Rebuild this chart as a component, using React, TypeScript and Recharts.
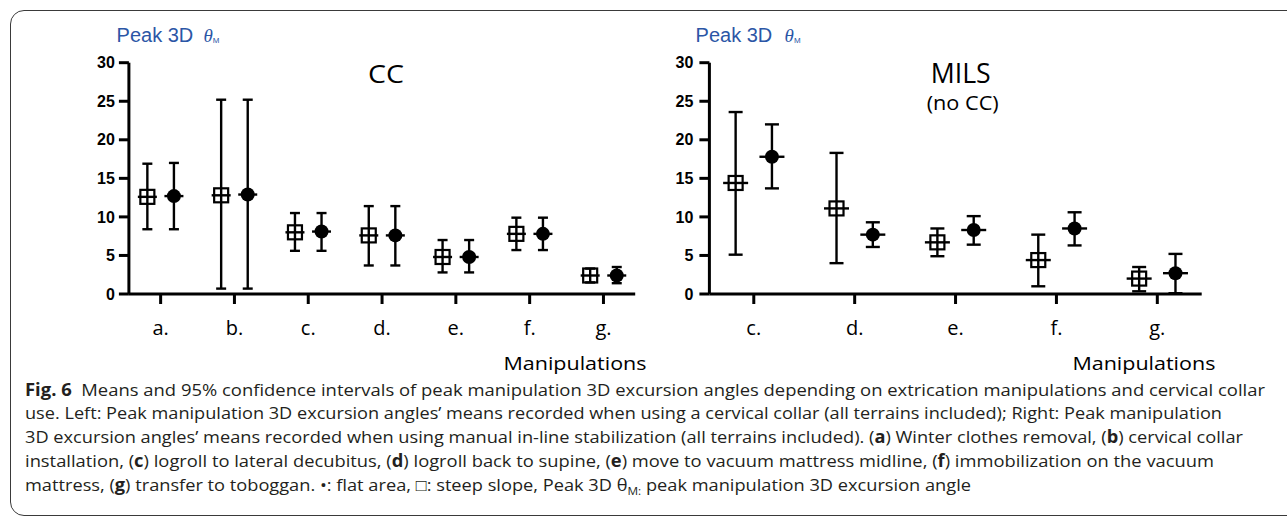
import React from 'react';
import { ScatterChart, Scatter, XAxis, YAxis, ErrorBar } from 'recharts';

// Left panel: cervical collar (CC)
const ccCategories = ['a.', 'b.', 'c.', 'd.', 'e.', 'f.', 'g.'];
const ccSteepMean = [12.6, 12.8, 8.0, 7.6, 4.8, 7.8, 2.4];
const ccSteepLow = [8.4, 0.7, 5.6, 3.7, 2.8, 5.7, 1.5];
const ccSteepHigh = [16.9, 25.2, 10.5, 11.4, 7.0, 9.9, 3.3];
const ccFlatMean = [12.7, 12.9, 8.1, 7.6, 4.8, 7.8, 2.4];
const ccFlatLow = [8.4, 0.7, 5.6, 3.7, 2.8, 5.7, 1.4];
const ccFlatHigh = [17.0, 25.2, 10.5, 11.4, 7.0, 9.9, 3.5];

// Right panel: manual in-line stabilization (MILS, no CC)
const milsCategories = ['c.', 'd.', 'e.', 'f.', 'g.'];
const milsSteepMean = [14.4, 11.1, 6.7, 4.4, 2.0];
const milsSteepLow = [5.1, 4.0, 4.9, 1.0, 0.35];
const milsSteepHigh = [23.6, 18.3, 8.5, 7.7, 3.5];
const milsFlatMean = [17.8, 7.7, 8.3, 8.5, 2.7];
const milsFlatLow = [13.7, 6.1, 6.4, 6.3, 0.1];
const milsFlatHigh = [22.0, 9.3, 10.1, 10.6, 5.2];

const yTicks = [0, 5, 10, 15, 20, 25, 30];

const DODGE = 0.18;

const buildRows = (mean: number[], low: number[], high: number[], shift: number) =>
  mean.map((m, i) => ({ x: i + shift, y: m, err: [m - low[i], high[i] - m] }));

const makeSquare = (half: number) => (props: any) => {
  const { cx, cy } = props;
  return (
    <g>
      <line x1={cx - half} x2={cx + half} y1={cy} y2={cy} stroke="#000" strokeWidth={2.4} />
      <rect x={cx - 7} y={cy - 7} width={14} height={14} fill="none" stroke="#000" strokeWidth={2.2} />
    </g>
  );
};

const makeDot = (half: number) => (props: any) => {
  const { cx, cy } = props;
  return (
    <g>
      <line x1={cx - half} x2={cx + half} y1={cy} y2={cy} stroke="#000" strokeWidth={2.4} />
      <circle cx={cx} cy={cy} r={7} fill="#000" />
    </g>
  );
};

interface PanelProps {
  categories: string[];
  steep: { x: number; y: number; err: number[] }[];
  flat: { x: number; y: number; err: number[] }[];
  left: number;
  width: number;
  marginLeft: number;
  marginRight: number;
  pad: number;
  cap: number;
  meanHalf: number;
  yTickMargin: number;
}

const Panel: React.FC<PanelProps> = ({ categories, steep, flat, left, width, marginLeft, marginRight, pad, cap, meanHalf, yTickMargin }) => {
  const axisStyle = { stroke: '#000', strokeWidth: 3 };
  return (
    <div style={{ position: 'absolute', left, top: 0 }}>
      <ScatterChart width={width} height={340} margin={{ top: 62.7, right: marginRight, bottom: 6, left: marginLeft }}>
        <XAxis
          type="number"
          dataKey="x"
          domain={[-pad, categories.length - 1 + pad]}
          ticks={categories.map((_, i) => i)}
          interval={0}
          tickFormatter={(v: number) => categories[v]}
          axisLine={axisStyle}
          tickLine={axisStyle}
          tickSize={10}
          tickMargin={17}
          height={40}
          tick={{ fill: '#000', fontSize: 20, fontFamily: 'Open Sans' }}
        />
        <YAxis
          type="number"
          dataKey="y"
          domain={[0, 30]}
          ticks={yTicks}
          interval={0}
          width={40}
          axisLine={axisStyle}
          tickLine={axisStyle}
          tickSize={10}
          tickMargin={yTickMargin}
          tick={{ fill: '#000', fontSize: 16, fontWeight: 700, fontFamily: 'Liberation Sans' }}
        />
        <Scatter data={steep} shape={makeSquare(meanHalf)} isAnimationActive={false}>
          <ErrorBar dataKey="err" direction="y" width={cap} stroke="#000" strokeWidth={2.4} />
        </Scatter>
        <Scatter data={flat} shape={makeDot(meanHalf)} isAnimationActive={false}>
          <ErrorBar dataKey="err" direction="y" width={cap} stroke="#000" strokeWidth={2.4} />
        </Scatter>
      </ScatterChart>
    </div>
  );
};

const captionLines: { parts: { t: string; b?: boolean; sub?: boolean }[]; end: number }[] = [
  {
    parts: [
      { t: 'Fig. 6', b: true },
      { t: ' \u00a0Means and 95% confidence intervals of peak manipulation 3D excursion angles depending on extrication manipulations and cervical collar' },
    ],
    end: 1265,
  },
  {
    parts: [{ t: 'use. Left: Peak manipulation 3D excursion angles\u2019 means recorded when using a cervical collar (all terrains included); Right: Peak manipulation' }],
    end: 1222,
  },
  {
    parts: [
      { t: '3D excursion angles\u2019 means recorded when using manual in-line stabilization (all terrains included). (' },
      { t: 'a', b: true },
      { t: ') Winter clothes removal, (' },
      { t: 'b', b: true },
      { t: ') cervical collar' },
    ],
    end: 1243,
  },
  {
    parts: [
      { t: 'installation, (' },
      { t: 'c', b: true },
      { t: ') logroll to lateral decubitus, (' },
      { t: 'd', b: true },
      { t: ') logroll back to supine, (' },
      { t: 'e', b: true },
      { t: ') move to vacuum mattress midline, (' },
      { t: 'f', b: true },
      { t: ') immobilization on the vacuum' },
    ],
    end: 1214,
  },
  {
    parts: [
      { t: 'mattress, (' },
      { t: 'g', b: true },
      { t: ') transfer to toboggan. \u2022: flat area, \u25a1: steep slope, Peak 3D \u03b8' },
      { t: 'M:', sub: true },
      { t: ' peak manipulation 3D excursion angle' },
    ],
    end: 971,
  },
];

const PeakLabel: React.FC<{ x: number; thetaX: number }> = ({ x, thetaX }) => (
  <g>
    <text x={x} y={41.7} fill="#2b56a6" fontSize={20} fontFamily="Liberation Sans">Peak 3D</text>
    <text x={thetaX} y={41.7} fill="#2b56a6" fontSize={19} fontStyle="italic" fontFamily="Liberation Serif">
      {'\u03b8'}
      <tspan fontSize={8} fontStyle="normal" fontFamily="Liberation Sans" dy={1}>M</tspan>
    </text>
  </g>
);

export default function App() {
  const ccSteep = buildRows(ccSteepMean, ccSteepLow, ccSteepHigh, -DODGE);
  const ccFlat = buildRows(ccFlatMean, ccFlatLow, ccFlatHigh, DODGE);
  const milsSteep = buildRows(milsSteepMean, milsSteepLow, milsSteepHigh, -DODGE);
  const milsFlat = buildRows(milsFlatMean, milsFlatLow, milsFlatHigh, DODGE);

  return (
    <div style={{ position: 'absolute', left: 0, top: 0, width: 1287, height: 518, overflow: 'hidden', background: '#fff' }}>
      <div
        style={{
          position: 'absolute',
          left: 10,
          top: 10,
          width: 1300,
          height: 506,
          border: '1px solid #3a3a3a',
          borderRadius: 14,
          boxSizing: 'border-box',
        }}
      />
      <svg width={1287} height={518} style={{ position: 'absolute', left: 0, top: 0 }}>
        <PeakLabel x={116.6} thetaX={203.5} />
        <PeakLabel x={695.6} thetaX={784.6} />
        <text x={368} y={83.3} fontSize={25} fontFamily="Open Sans" fill="#000" textLength={36} lengthAdjust="spacingAndGlyphs">CC</text>
        <text x={930.7} y={83.3} fontSize={26.5} fontFamily="Open Sans" fill="#000" textLength={60} lengthAdjust="spacingAndGlyphs">MILS</text>
        <text x={926.7} y={110} fontSize={20} fontFamily="Open Sans" fill="#000" textLength={72} lengthAdjust="spacingAndGlyphs">(no CC)</text>
        <text x={503.5} y={369.5} fontSize={19} fontFamily="Open Sans" fill="#000" textLength={143} lengthAdjust="spacingAndGlyphs">Manipulations</text>
        <text x={1072.4} y={369.5} fontSize={19} fontFamily="Open Sans" fill="#000" textLength={143} lengthAdjust="spacingAndGlyphs">Manipulations</text>
        {captionLines.map((line, i) => (
          <text
            key={i}
            x={25}
            y={395.5 + i * 23.9}
            fontSize={17}
            fontFamily="Open Sans"
            fill="#231f20"
            textLength={line.end - 25}
            lengthAdjust="spacingAndGlyphs"
            xmlSpace="preserve"
          >
            {line.parts.map((p, j) => {
              const prev = line.parts[j - 1];
              const dy = p.sub ? 4 : prev && prev.sub ? -4 : 0;
              return (
                <tspan key={j} fontWeight={p.b ? 700 : 400} fontSize={p.sub ? 11 : 17} dy={dy}>
                  {p.t}
                </tspan>
              );
            })}
          </text>
        ))}
      </svg>
      <Panel
        categories={ccCategories}
        steep={ccSteep}
        flat={ccFlat}
        left={0}
        width={660}
        marginLeft={88.9}
        marginRight={24.8}
        pad={0.43}
        cap={5}
        meanHalf={9.5}
        yTickMargin={4}
      />
      <Panel
        categories={milsCategories}
        steep={milsSteep}
        flat={milsFlat}
        left={660}
        width={627}
        marginLeft={9.4}
        marginRight={85.3}
        pad={0.44}
        cap={7}
        meanHalf={12.5}
        yTickMargin={6}
      />
    </div>
  );
}
